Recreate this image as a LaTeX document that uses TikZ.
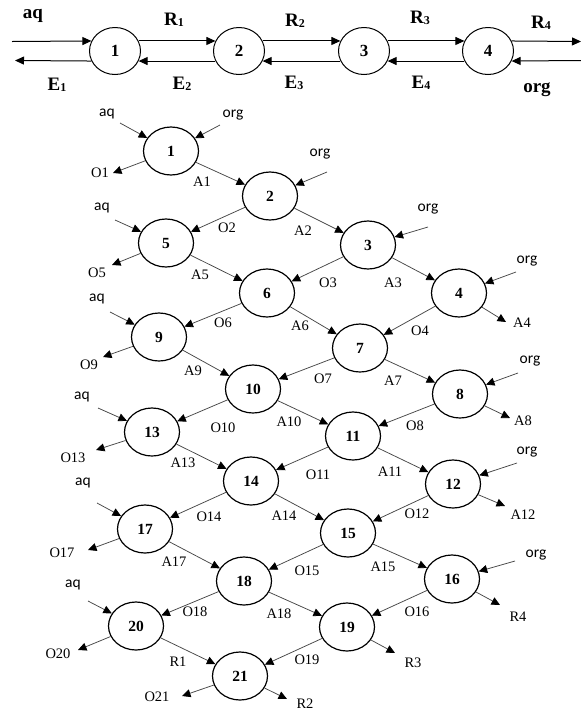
\documentclass[tikz,border=0pt]{standalone}
\usepackage{fontspec}
\setmainfont{Liberation Serif}
\newfontfamily\carlfont{Carlito}
\usetikzlibrary{arrows.meta,shapes.geometric}
\newcommand\mysub[1]{\raisebox{-1pt}{\fontsize{12}{12}\selectfont #1}}
\tikzset{
  tnode/.style={ellipse,draw,line width=1pt,minimum width=51pt,minimum height=47pt,inner sep=0pt,font=\fontsize{17}{17}\selectfont\bfseries},
  lnode/.style={ellipse,draw,line width=1.2pt,minimum width=55pt,minimum height=48pt,inner sep=0pt,font=\fontsize{15.5}{15.5}\selectfont\bfseries},
  tarr/.style={line width=1pt,-{Triangle[length=9pt,width=8pt]}},
  larr/.style={draw=black!72,line width=0.75pt,-{Triangle[length=8.5pt,width=8pt,color=black]}},
  tlab/.style={inner sep=0pt,font=\fontsize{19}{19}\selectfont\bfseries},
  lab/.style={inner sep=0pt,font=\fontsize{14.5}{14.5}\selectfont},
  ext/.style={inner sep=0pt,font=\carlfont\fontsize{15.5}{15.5}\selectfont},
}
\begin{document}
\begin{tikzpicture}[x=1pt,y=-1pt]
\useasboundingbox[fill=white] (0,0) rectangle (581,713);
% ---------- top row ----------
\node[tnode] (T1) at (115,51) {1};
\node[tnode] (T2) at (239,51) {2};
\node[tnode] (T3) at (364,51) {3};
\node[tnode] (T4) at (488,51) {4};
\coordinate (Tin) at (12,41.5);
\coordinate (Tout) at (15,60.5);
\coordinate (Rout) at (581,41.5);
\coordinate (Rin) at (581,60.5);
\draw[tarr] (Tin) -- (T1.157);
\draw[tarr] (T1.203) -- (Tout);
\draw[tarr] (T1.23) -- (T2.157);
\draw[tarr] (T2.203) -- (T1.337);
\draw[tarr] (T2.23) -- (T3.157);
\draw[tarr] (T3.203) -- (T2.337);
\draw[tarr] (T3.23) -- (T4.157);
\draw[tarr] (T4.203) -- (T3.337);
\draw[tarr] (T4.23) -- (Rout);
\draw[tarr] (Rin) -- (T4.337);
\node[tlab] (taq) at (33,16) {aq};
\node[tlab] (tR1) at (174,20) {R\mysub{1}};
\node[tlab] (tR2) at (295,21) {R\mysub{2}};
\node[tlab] (tR3) at (420,18) {R\mysub{3}};
\node[tlab] (tR4) at (541,23) {R\mysub{4}};
\node[tlab] (tE1) at (57,85) {E\mysub{1}};
\node[tlab] (tE2) at (182,84) {E\mysub{2}};
\node[tlab] (tE3) at (294,83) {E\mysub{3}};
\node[tlab] (tE4) at (421,83) {E\mysub{4}};
\node[tlab] (torg) at (537,90) {org};
% ---------- lower network ----------
\node[lnode] (n1) at (171,151) {1};
\node[lnode] (n2) at (270,196) {2};
\node[lnode] (n3) at (368,245) {3};
\node[lnode] (n4) at (459,293) {4};
\node[lnode] (n5) at (166,243) {5};
\node[lnode] (n6) at (267,293) {6};
\node[lnode] (n7) at (360,348) {7};
\node[lnode] (n8) at (460,394) {8};
\node[lnode] (n9) at (159,337) {9};
\node[lnode] (n10) at (253,389) {10};
\node[lnode] (n11) at (353,436) {11};
\node[lnode] (n12) at (453,484) {12};
\node[lnode] (n13) at (152,432) {13};
\node[lnode] (n14) at (251,481) {14};
\node[lnode] (n15) at (348,533) {15};
\node[lnode] (n16) at (452,579) {16};
\node[lnode] (n17) at (145,529) {17};
\node[lnode] (n18) at (244,581) {18};
\node[lnode] (n19) at (347,627) {19};
\node[lnode] (n20) at (136,626) {20};
\node[lnode] (n21) at (240,676) {21};
% internal connectors
\foreach \a/\b in {n1/n2,n2/n5,n2/n3,n5/n6,n3/n6,n3/n4,n6/n9,n6/n7,n4/n7,
  n9/n10,n7/n10,n7/n8,n10/n13,n10/n11,n8/n11,n13/n14,n11/n14,n11/n12,
  n14/n17,n14/n15,n12/n15,n17/n18,n15/n18,n15/n16,n18/n20,n18/n19,n16/n19,
  n20/n21,n19/n21}
  \draw[larr] (\a) -- (\b);
% external inputs
\coordinate (i1a) at (120,123);
\coordinate (i1o) at (220,125);
\coordinate (i2o) at (327,172);
\coordinate (i3o) at (428,227);
\coordinate (i4o) at (516,272);
\coordinate (i5a) at (115,220);
\coordinate (i9a) at (110,312);
\coordinate (i8o) at (518,373);
\coordinate (i13a) at (98,408);
\coordinate (i12o) at (517,463);
\coordinate (i17a) at (97,503);
\coordinate (i16o) at (515,561);
\coordinate (i20a) at (88,601);
\foreach \c/\n in {i1a/n1,i1o/n1,i2o/n2,i3o/n3,i4o/n4,i5a/n5,i9a/n9,i8o/n8,
  i13a/n13,i12o/n12,i17a/n17,i16o/n16,i20a/n20}
  \draw[larr] (\c) -- (\n);
% external outputs
\coordinate (o1) at (113,173);
\coordinate (o5) at (112,265);
\coordinate (o4) at (506,322);
\coordinate (o9) at (103,357);
\coordinate (o8) at (510,418);
\coordinate (o13) at (96,450);
\coordinate (o12) at (505,506);
\coordinate (o17) at (88,550);
\coordinate (o16) at (500,605);
\coordinate (o20) at (78,650);
\coordinate (o19) at (395,653);
\coordinate (o21a) at (182,696);
\coordinate (o21b) at (287,699);
\foreach \n/\c in {n1/o1,n5/o5,n4/o4,n9/o9,n8/o8,n13/o13,n12/o12,n17/o17,
  n16/o16,n20/o20,n19/o19,n21/o21a,n21/o21b}
  \draw[larr] (\n) -- (\c);
% input labels
\node[ext] (laq1) at (107,114) {aq};
\node[ext] (lorg1) at (233,115) {org};
\node[ext] (lorg2) at (320,154) {org};
\node[ext] (lorg3) at (428,209) {org};
\node[ext] (lorg4) at (527,261) {org};
\node[ext] (laq5) at (102,208) {aq};
\node[ext] (laq9) at (97,299) {aq};
\node[ext] (lorg8) at (530,361) {org};
\node[ext] (laq13) at (82,397) {aq};
\node[ext] (lorg12) at (527,452) {org};
\node[ext] (laq17) at (83,483) {aq};
\node[ext] (lorg16) at (536,555) {org};
\node[ext] (laq20) at (73,585) {aq};
% connector labels
\node[lab] (lO1) at (100,173) {O1};
\node[lab] (lA1) at (202,182) {A1};
\node[lab] (lO2) at (227,228) {O2};
\node[lab] (lA2) at (303,231) {A2};
\node[lab] (lO5) at (97,273) {O5};
\node[lab] (lA5) at (200,275) {A5};
\node[lab] (lO3) at (328,283) {O3};
\node[lab] (lA3) at (393,283) {A3};
\node[lab] (lA4) at (522,323) {A4};
\node[lab] (lO4) at (420,331) {O4};
\node[lab] (lA6) at (300,326) {A6};
\node[lab] (lO6) at (223,323) {O6};
\node[lab] (lO9) at (89,365) {O9};
\node[lab] (lA9) at (193,371) {A9};
\node[lab] (lO7) at (323,379) {O7};
\node[lab] (lA7) at (393,381) {A7};
\node[lab] (lA8) at (523,421) {A8};
\node[lab] (lO8) at (415,426) {O8};
\node[lab] (lA10) at (289,422) {A10};
\node[lab] (lO10) at (223,428) {O10};
\node[lab] (lO13) at (73,458) {O13};
\node[lab] (lA13) at (183,463) {A13};
\node[lab] (lO11) at (318,475) {O11};
\node[lab] (lA11) at (390,472) {A11};
\node[lab] (lO14) at (209,517) {O14};
\node[lab] (lA14) at (284,516) {A14};
\node[lab] (lA12) at (523,515) {A12};
\node[lab] (lO12) at (417,514) {O12};
\node[lab] (lO17) at (62,553) {O17};
\node[lab] (lA17) at (174,562) {A17};
\node[lab] (lO15) at (307,571) {O15};
\node[lab] (lA15) at (383,567) {A15};
\node[lab] (lO18) at (195,612) {O18};
\node[lab] (lA18) at (279,614) {A18};
\node[lab] (lO16) at (417,612) {O16};
\node[lab] (lR4) at (518,617) {R4};
\node[lab] (lO20) at (58,654) {O20};
\node[lab] (lR1) at (178,662) {R1};
\node[lab] (lO19) at (307,660) {O19};
\node[lab] (lR3) at (413,663) {R3};
\node[lab] (lO21) at (157,697) {O21};
\node[lab] (lR2) at (305,704) {R2};
\end{tikzpicture}
\end{document}
